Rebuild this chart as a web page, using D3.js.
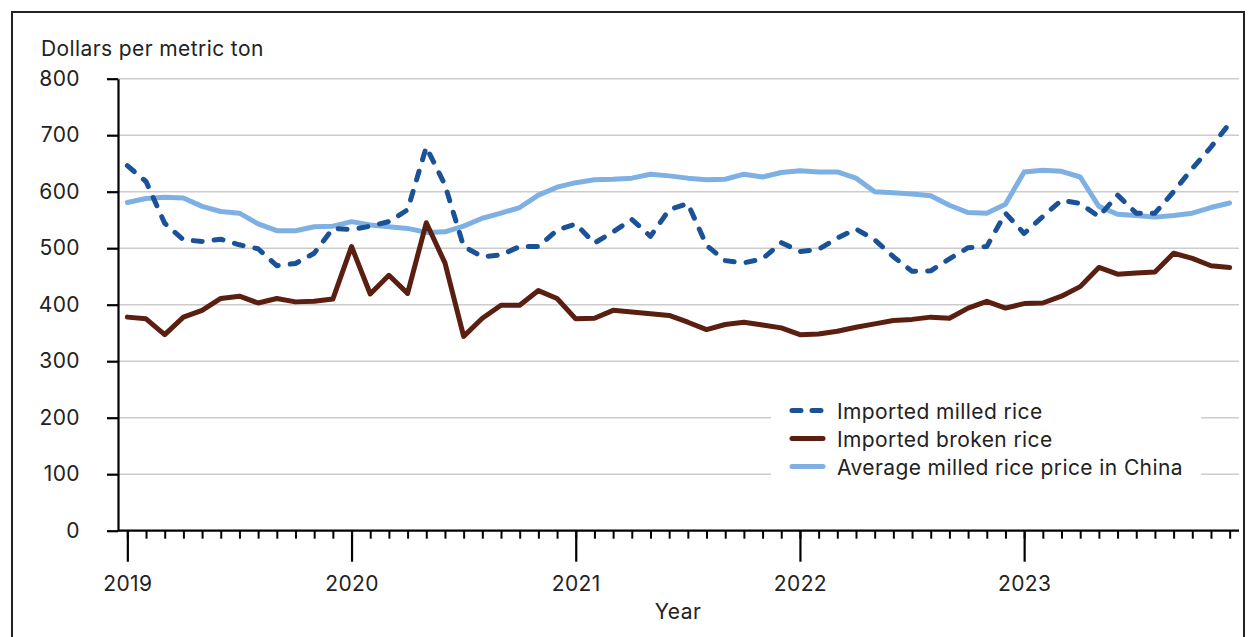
<!DOCTYPE html>
<html>
<head>
<meta charset="utf-8">
<script src="https://cdn.jsdelivr.net/npm/d3@7"></script>
<style>
  body { margin: 0; background: #fff; }
  svg { display: block; font-family: Inter, "Noto Sans", sans-serif; letter-spacing: 0.4px; }
</style>
</head>
<body>
<svg id="chart" width="1248" height="637"></svg>
<script>
const years = ['2019', '2020', '2021', '2022', '2023']
const yTicks = [0, 100, 200, 300, 400, 500, 600, 700, 800]

// monthly values, Jan 2019 .. Dec 2023, dollars per metric ton
const milledRice = [
  646, 618, 544, 515, 512, 516, 506, 499, 469, 473, 491, 535,
  533, 539, 547, 568, 679, 612, 503, 485, 488, 503, 503, 532,
  543, 509, 529, 551, 521, 568, 579, 505, 478, 474, 481, 510,
  494, 498, 518, 534, 515, 485, 459, 460, 481, 501, 503, 562,
  526, 556, 585, 579, 556, 594, 562, 562, 600, 641, 679, 721
]
const brokenRice = [
  378, 375, 347, 378, 390, 411, 415, 403, 411, 405, 406, 410,
  503, 419, 452, 420, 545, 474, 344, 376, 399, 399, 425, 411,
  375, 376, 390, 387, 384, 381, 369, 356, 365, 369, 364, 359,
  347, 348, 353, 360, 366, 372, 374, 378, 376, 394, 406, 394,
  402, 403, 415, 432, 466, 454, 456, 458, 491, 482, 469, 466
]
const chinaPrice = [
  581, 588, 590, 589, 574, 565, 562, 543, 531, 531, 538, 539,
  547, 541, 538, 535, 528, 529, 539, 553, 562, 572, 594, 608,
  616, 621, 622, 624, 631, 628, 624, 621, 622, 631, 626, 634,
  637, 635, 635, 624, 600, 598, 596, 593, 576, 563, 562, 578,
  635, 638, 636, 626, 574, 560, 558, 555, 558, 562, 572, 580
]

const seriesNames = ['Imported milled rice', 'Imported broken rice', 'Average milled rice price in China']
const seriesColors = ['#1b5196', '#5a1f10', '#7fb0e3']
const seriesDash = ['9,12', null, null]

const months = []
years.forEach(function (yr) {
  for (let m = 1; m <= 12; m++) months.push(yr + '-' + (m < 10 ? '0' + m : m))
})

const svg = d3.select('#chart')

// outer frame
svg.append('rect')
  .attr('x', 12).attr('y', 12)
  .attr('width', 1232).attr('height', 640)
  .attr('fill', 'none')
  .attr('stroke', '#222')
  .attr('stroke-width', 2)

const plotLeft = 118
const plotRight = 1239
const plotTop = 78.7
const plotBottom = 530.7
const fontSize = 21

const x = d3.scalePoint()
  .domain(months)
  .range([plotLeft, plotRight])
  .padding(0.5)

const y = d3.scaleLinear()
  .domain([0, 800])
  .range([plotBottom, plotTop])

// gridlines
svg.append('g')
  .selectAll('line')
  .data(yTicks.filter(function (d) { return d > 0 }))
  .enter().append('line')
    .attr('x1', plotLeft).attr('x2', plotRight)
    .attr('y1', function (d) { return y(d) })
    .attr('y2', function (d) { return y(d) })
    .attr('stroke', '#cccccc')
    .attr('stroke-width', 1.5)

// y axis
const yAxis = svg.append('g')
  .attr('transform', 'translate(' + plotLeft + ',0)')
  .call(d3.axisLeft(y).tickValues(yTicks).tickSize(11).tickPadding(27).tickSizeOuter(0))
yAxis.select('.domain').attr('stroke', '#000').attr('stroke-width', 2.2)
yAxis.selectAll('.tick line').attr('stroke', '#000').attr('stroke-width', 2.2)
yAxis.selectAll('.tick text')
  .attr('font-size', fontSize).attr('fill', '#222').attr('font-family', 'Inter, sans-serif')

// x axis: minor month ticks
const xMinor = svg.append('g')
  .attr('transform', 'translate(0,' + plotBottom + ')')
  .call(d3.axisBottom(x).tickValues(months).tickSize(8).tickFormat('').tickSizeOuter(0))
xMinor.select('.domain')
  .attr('d', 'M' + plotLeft + ',0H' + plotRight)
  .attr('stroke', '#000').attr('stroke-width', 2.2)
xMinor.selectAll('.tick line').attr('stroke', '#000').attr('stroke-width', 2)

// x axis: year ticks
const xMajor = svg.append('g')
  .attr('transform', 'translate(0,' + plotBottom + ')')
  .call(d3.axisBottom(x)
    .tickValues(months.filter(function (m) { return m.slice(5) === '01' }))
    .tickSize(31)
    .tickPadding(14)
    .tickFormat(function (m) { return m.slice(0, 4) }))
xMajor.select('.domain').remove()
xMajor.selectAll('.tick line').attr('stroke', '#000').attr('stroke-width', 2.2)
xMajor.selectAll('.tick text')
  .attr('font-size', fontSize).attr('fill', '#222').attr('font-family', 'Inter, sans-serif')

// axis titles
svg.append('text')
  .attr('x', 41).attr('y', 56)
  .attr('font-size', fontSize).attr('fill', '#222')
  .text('Dollars per metric ton')

svg.append('text')
  .attr('x', 678).attr('y', 619)
  .attr('text-anchor', 'middle')
  .attr('font-size', fontSize).attr('fill', '#222')
  .text('Year')

// lines
const line = d3.line()
  .x(function (d, i) { return x(months[i]) })
  .y(function (d) { return y(d) })

const allSeries = [milledRice, brokenRice, chinaPrice]
// China first, then broken, milled on top
const order = [2, 1, 0]
order.forEach(function (k) {
  svg.append('path')
    .datum(allSeries[k])
    .attr('d', line)
    .attr('fill', 'none')
    .attr('stroke', seriesColors[k])
    .attr('stroke-width', 5)
    .attr('stroke-linejoin', 'round')
    .attr('stroke-linecap', 'round')
    .attr('stroke-dasharray', seriesDash[k])
})

// legend
const legend = svg.append('g')
legend.append('rect')
  .attr('x', 771).attr('y', 392)
  .attr('width', 430).attr('height', 95)
  .attr('fill', '#fff')

const rows = legend.selectAll('.row')
  .data(seriesNames)
  .enter().append('g')
    .attr('class', 'row')
    .attr('transform', function (d, i) { return 'translate(0,' + (410.5 + i * 28) + ')' })

rows.append('line')
  .attr('x1', 792).attr('x2', 823)
  .attr('y1', 0).attr('y2', 0)
  .attr('stroke', function (d, i) { return seriesColors[i] })
  .attr('stroke-width', 5)
  .attr('stroke-linecap', 'round')
  .attr('stroke-dasharray', function (d, i) { return i === 0 ? '9,11' : null })

rows.append('text')
  .attr('x', 837).attr('y', 8)
  .attr('font-size', fontSize).attr('fill', '#222')
  .text(function (d) { return d })
</script>
</body>
</html>
